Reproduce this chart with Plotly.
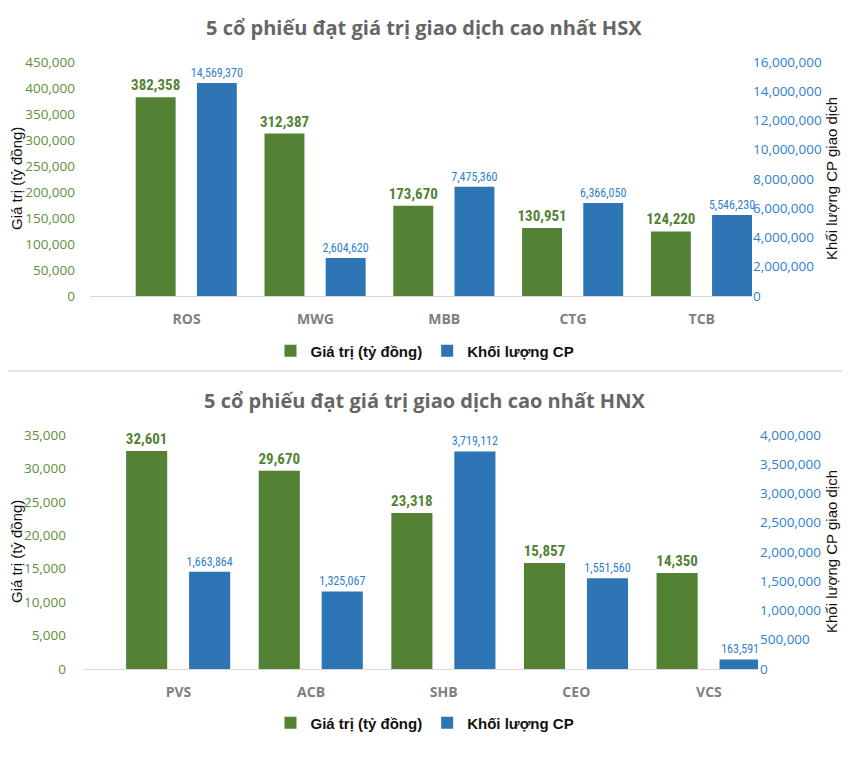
import plotly.graph_objects as go

# ---- data ----
hsx_codes = ["ROS", "MWG", "MBB", "CTG", "TCB"]
hsx_value = [382358, 312387, 173670, 130951, 124220]          # Giá trị (tỷ đồng)
hsx_volume = [14569370, 2604620, 7475360, 6366050, 5546230]  # Khối lượng CP

hnx_codes = ["PVS", "ACB", "SHB", "CEO", "VCS"]
hnx_value = [32601, 29670, 23318, 15857, 14350]
hnx_volume = [1663864, 1325067, 3719112, 1551560, 163591]

title_hsx = "5 cổ phiếu đạt giá trị giao dịch cao nhất HSX"
title_hnx = "5 cổ phiếu đạt giá trị giao dịch cao nhất HNX"
name_value = "Giá trị (tỷ đồng)"
name_volume = "Khối lượng CP"
ytitle_left = "Giá trị (tỷ đồng)"
ytitle_right = "Khối lượng CP giao dịch"

GREEN = "#548235"
BLUE = "#2E75B6"
GREEN_T = "#5E8F3C"
BLUE_T = "#2F80CF"

# page has an 8px body margin: size the figure to fill the rest of the window
OFF = 8
W, H = 850 - OFF, 772 - OFF

TICKF = "Open Sans, DejaVu Sans, sans-serif"
NARROW = "Liberation Sans Narrow, Arial Narrow, Roboto Condensed, Liberation Sans, sans-serif"
ARIAL = "Liberation Sans, Arial, sans-serif"


def py(p):
    return 1 - (p - OFF) / H


def px_(p):
    return (p - OFF) / W


fig = go.Figure()

BW = 0.31
for (codes, vals, vols, xa, ya, ya2, leg) in [
    (hsx_codes, hsx_value, hsx_volume, "x", "y", "y2", "legend"),
    (hnx_codes, hnx_value, hnx_volume, "x2", "y3", "y4", "legend2"),
]:
    fig.add_trace(go.Bar(
        x=codes, y=vals, name=name_value, xaxis=xa, yaxis=ya, legend=leg,
        marker=dict(color=GREEN, line=dict(width=0)),
        width=BW, offset=-0.395,
        text=[f"{v:,}" for v in vals], textposition="outside",
        textfont=dict(family=NARROW, size=15, color=GREEN, weight="bold"),
        constraintext="none", cliponaxis=False,
    ))
    fig.add_trace(go.Bar(
        x=codes, y=vols, name=name_volume, xaxis=xa, yaxis=ya2, legend=leg,
        marker=dict(color=BLUE, line=dict(width=0)),
        width=BW, offset=0.08,
        text=[f"{v:,}" for v in vols], textposition="outside",
        textfont=dict(family=NARROW, size=12, color=BLUE_T),
        constraintext="none", cliponaxis=False,
    ))

xcommon = dict(showgrid=False, showline=True, linecolor="#D9D9D9", linewidth=1,
               ticks="", ticklabelstandoff=10, automargin=False, zeroline=False,
               tickfont=dict(family=TICKF, size=14, color="#7F7F7F", weight="bold"))
ycommon = dict(showgrid=False, showline=False, zeroline=False, automargin=False, ticks="",
               tickformat=",d")
lt = dict(family=TICKF, size=13.5, color=GREEN_T)
rt = dict(family=TICKF, size=13.5, color=BLUE_T)

fig.update_layout(
    width=W, height=H, margin=dict(l=0, r=0, t=0, b=0),
    paper_bgcolor="white", plot_bgcolor="white", barmode="overlay",
    xaxis=dict(domain=[px_(90), px_(752)], range=[-0.75, 4.39], anchor="y", **xcommon),
    yaxis=dict(domain=[py(296), py(62)], range=[0, 450000], dtick=50000,
               ticklabelstandoff=14, tickfont=lt, **ycommon),
    yaxis2=dict(overlaying="y", side="right", anchor="x", range=[0, 16000000], dtick=2000000,
                ticklabelstandoff=0, tickfont=rt, **ycommon),
    xaxis2=dict(domain=[px_(83), px_(758)], range=[-0.72, 4.37], anchor="y3", **xcommon),
    yaxis3=dict(domain=[py(669), py(435)], anchor="x2", range=[0, 35000], dtick=5000,
                ticklabelstandoff=16, tickfont=lt, **ycommon),
    yaxis4=dict(overlaying="y3", side="right", anchor="x2", range=[0, 4000000], dtick=500000,
                ticklabelstandoff=1, tickfont=rt, **ycommon),
    legend=dict(orientation="h", x=px_(425), xanchor="center", y=py(351), yanchor="middle",
                font=dict(family=ARIAL, size=15, color="#111111", weight="bold"),
                itemwidth=30, tracegroupgap=0, bgcolor="rgba(0,0,0,0)"),
    legend2=dict(orientation="h", x=px_(425), xanchor="center", y=py(723), yanchor="middle",
                 font=dict(family=ARIAL, size=15, color="#111111", weight="bold"),
                 itemwidth=30, tracegroupgap=0, bgcolor="rgba(0,0,0,0)"),
    showlegend=True,
)

annots = []
for t, yc in [(title_hsx, 27), (title_hnx, 400)]:
    annots.append(dict(text=t, x=px_(424), y=py(yc), xref="paper", yref="paper",
                       xanchor="center", yanchor="middle", showarrow=False,
                       font=dict(family=TICKF, size=20, color="#666666", weight="bold")))
for yc in [179, 552]:
    annots.append(dict(text=ytitle_left, x=px_(16), y=py(yc), xref="paper", yref="paper",
                       xanchor="center", yanchor="middle", showarrow=False, textangle=-90,
                       font=dict(family=ARIAL, size=15, color="#111111")))
    annots.append(dict(text=ytitle_right, x=px_(831), y=py(yc), xref="paper", yref="paper",
                       xanchor="center", yanchor="middle", showarrow=False, textangle=-90,
                       font=dict(family=ARIAL, size=15, color="#111111")))
fig.update_layout(annotations=annots)

fig.add_shape(type="line", xref="paper", yref="paper", x0=0, x1=1, y0=py(371), y1=py(371),
              line=dict(color="#E3E3E3", width=2))

fig.write_html("out.html")
